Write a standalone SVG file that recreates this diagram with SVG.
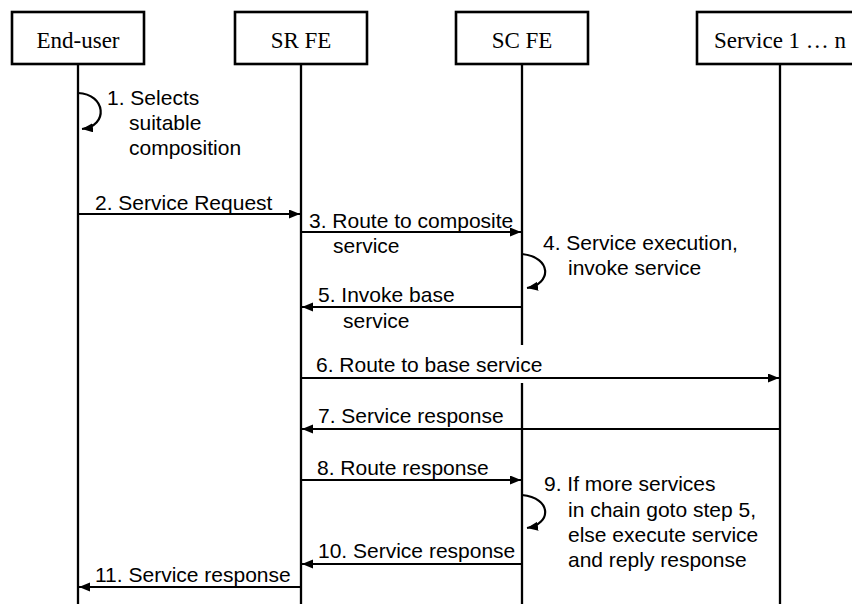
<svg xmlns="http://www.w3.org/2000/svg" width="852" height="604" viewBox="0 0 852 604">
  <style>
    .box { fill: #fff; stroke: #000; stroke-width: 2.6; }
    .boxlabel { font-family: "Liberation Serif", "Times New Roman", serif; font-size: 23px; fill: #000; text-anchor: middle; }
    .life { stroke: #000; stroke-width: 2.3; fill: none; }
    .msg { stroke: #000; stroke-width: 2.2; fill: none; marker-end: url(#arrow); }
    .lbl { font-family: "Liberation Sans", Arial, Helvetica, sans-serif; font-size: 21px; fill: #000; }
  </style>
  <defs>
    <marker id="arrow" markerUnits="userSpaceOnUse" markerWidth="12" markerHeight="10" refX="11" refY="4.5" orient="auto">
      <path d="M0,0 L11,4.5 L0,9 z" fill="#000"/>
    </marker>
  </defs>
  <rect width="852" height="604" fill="#fff"/>

  <g id="lifelines">
    <line class="life" x1="78" y1="64" x2="78" y2="604"/>
    <line class="life" x1="301" y1="64" x2="301" y2="604"/>
    <line class="life" x1="522" y1="64" x2="522" y2="604"/>
    <line class="life" x1="780" y1="64" x2="780" y2="604"/>
  </g>

  <g id="end-user">
    <rect class="box" x="12" y="12" width="132" height="52"/>
    <text class="boxlabel" x="78" y="48">End-user</text>
  </g>
  <g id="sr-fe">
    <rect class="box" x="235" y="12" width="132" height="52"/>
    <text class="boxlabel" x="301" y="48">SR FE</text>
  </g>
  <g id="sc-fe">
    <rect class="box" x="456" y="12" width="132" height="52"/>
    <text class="boxlabel" x="522" y="48">SC FE</text>
  </g>
  <g id="service">
    <rect class="box" x="697" y="12" width="170" height="52"/>
    <text class="boxlabel" x="780" y="48">Service 1 … n</text>
  </g>

  <rect x="311" y="345" width="240" height="38" fill="#fff"/>

  <g id="connectors">
    <path class="msg" d="M78,93 C106,94 109,126 82,129"/>
    <line class="msg" x1="78" y1="214" x2="300" y2="214"/>
    <line class="msg" x1="301" y1="232" x2="521" y2="232"/>
    <path class="msg" d="M522,254 C552,257 552,284 527,288"/>
    <line class="msg" x1="522" y1="307" x2="302" y2="307"/>
    <line class="msg" x1="301" y1="378" x2="779" y2="378"/>
    <line class="msg" x1="780" y1="429" x2="302" y2="429"/>
    <line class="msg" x1="301" y1="480" x2="521" y2="480"/>
    <path class="msg" d="M522,495 C552,498 552,524 527,528"/>
    <line class="msg" x1="522" y1="564" x2="302" y2="564"/>
    <line class="msg" x1="301" y1="587" x2="79" y2="587"/>
  </g>

  <g id="labels">
    <text class="lbl" x="107" y="105">1. Selects</text>
    <text class="lbl" x="129" y="130">suitable</text>
    <text class="lbl" x="129" y="155">composition</text>
    <text class="lbl" x="95" y="210">2. Service Request</text>
    <text class="lbl" x="309" y="228">3. Route to composite</text>
    <text class="lbl" x="333" y="253">service</text>
    <text class="lbl" x="543" y="250">4. Service execution,</text>
    <text class="lbl" x="568" y="275">invoke service</text>
    <text class="lbl" x="318" y="302">5. Invoke base</text>
    <text class="lbl" x="343" y="328">service</text>
    <text class="lbl" x="316" y="372">6. Route to base service</text>
    <text class="lbl" x="318" y="423">7. Service response</text>
    <text class="lbl" x="317" y="475">8. Route response</text>
    <text class="lbl" x="544" y="491">9. If more services</text>
    <text class="lbl" x="568" y="517">in chain goto step 5,</text>
    <text class="lbl" x="568" y="542">else execute service</text>
    <text class="lbl" x="568" y="567">and reply response</text>
    <text class="lbl" x="318" y="558">10. Service response</text>
    <text class="lbl" x="95" y="582">11. Service response</text>
  </g>
</svg>
